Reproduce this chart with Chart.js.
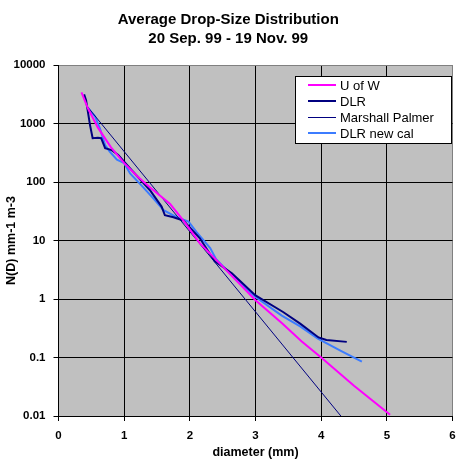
<!DOCTYPE html>
<html>
<head>
<meta charset="utf-8">
<title>Average Drop-Size Distribution</title>
<script src="https://cdn.jsdelivr.net/npm/chart.js@4/dist/chart.umd.min.js"></script>
<style>
  html, body { margin: 0; padding: 0; background: #fff; }
  canvas { display: block; }
</style>
</head>
<body>
<canvas id="dsd_chart" width="465" height="462"></canvas>
<script>
"use strict";

/*-- data --*/
var uwD  = [0.35, 0.45, 0.6, 0.8, 1.0, 1.2, 1.4, 1.7, 1.9, 2.15, 2.45, 3.0, 3.4, 3.7, 4.0, 4.5, 5.05];
var uwN  = [3400, 1800, 850, 390, 210, 125, 80, 42, 22, 9, 4.1, 0.95, 0.39, 0.19, 0.1, 0.033, 0.0105];

var dlrD = [0.39, 0.42, 0.48, 0.52, 0.6, 0.65, 0.71, 0.81, 0.91, 1.09, 1.39, 1.57, 1.62, 1.75, 1.9, 2.15, 2.38, 2.64, 3.0, 3.42, 3.68, 3.96, 4.08, 4.39];
var dlrN = [3150, 2500, 940, 560, 570, 560, 380, 350, 290, 171, 73, 38, 27, 25, 22, 11, 4.4, 2.75, 1.15, 0.6, 0.38, 0.22, 0.2, 0.185];

var mpD  = [0.44, 4.3];
var mpN  = [1940, 0.01];

var newD = [0.45, 0.56, 0.63, 0.71, 0.78, 0.89, 1.0, 1.09, 1.27, 1.44, 1.6, 1.8, 1.98, 2.1, 2.31, 2.4, 2.66, 2.99, 3.4, 3.68, 3.95, 4.3, 4.62];
var newN = [1850, 1300, 830, 430, 330, 240, 210, 140, 86, 53, 33, 25, 21, 14, 7.4, 4.8, 2.4, 1.1, 0.52, 0.34, 0.21, 0.13, 0.085];

var xTicks = [0, 1, 2, 3, 4, 5, 6];
var yTicks = [0.01, 0.1, 1, 10, 100, 1000, 10000];
var yTickLabels = ["0.01", "0.1", "1", "10", "100", "1000", "10000"];

function pts(xs, ys) {
  return xs.map(function (x, i) { return { x: x, y: ys[i] }; });
}

Chart.defaults.font.family = "'Liberation Sans', Arial, sans-serif";
Chart.defaults.color = '#000';

/*-- gray plot area --*/
var plotBack = {
  id: 'plotBack',
  beforeDraw: function (chart) {
    var a = chart.chartArea, ctx = chart.ctx;
    ctx.save();
    ctx.fillStyle = '#c0c0c0';
    ctx.fillRect(a.left, a.top, a.right - a.left, a.bottom - a.top);
    ctx.restore();
  }
};

/*-- legend box inside the plot --*/
var boxLegend = {
  id: 'boxLegend',
  afterDraw: function (chart) {
    var ctx = chart.ctx;
    var bx = 295.5, by = 76.5, bw = 156, bh = 67;
    ctx.save();
    ctx.fillStyle = '#fff';
    ctx.fillRect(bx, by, bw, bh);
    ctx.strokeStyle = '#000';
    ctx.lineWidth = 1;
    ctx.strokeRect(bx, by, bw, bh);
    ctx.font = "13px 'Liberation Sans', Arial, sans-serif";
    ctx.textBaseline = 'middle';
    ctx.fillStyle = '#000';
    chart.data.datasets.forEach(function (ds, i) {
      var y = 85 + i * 16;
      var ly = ds.borderWidth % 2 ? y + 0.5 : y;
      ctx.strokeStyle = ds.borderColor;
      ctx.lineWidth = ds.borderWidth;
      ctx.beginPath();
      ctx.moveTo(308, ly);
      ctx.lineTo(336, ly);
      ctx.stroke();
      ctx.fillText(ds.label, 340, y + 1);
    });
    ctx.restore();
  }
};

new Chart(document.getElementById('dsd_chart').getContext('2d'), {
  type: 'line',
  data: {
    datasets: [{
      label: 'U of W',
      data: pts(uwD, uwN),
      borderColor: '#ff00ff',
      borderWidth: 2
    }, {
      label: 'DLR',
      data: pts(dlrD, dlrN),
      borderColor: '#000080',
      borderWidth: 2
    }, {
      label: 'Marshall Palmer',
      data: pts(mpD, mpN),
      borderColor: '#000080',
      borderWidth: 1
    }, {
      label: 'DLR new cal',
      data: pts(newD, newN),
      borderColor: '#3c7cff',
      borderWidth: 2
    }]
  },
  options: {
    responsive: false,
    animation: false,
    devicePixelRatio: 1,
    parsing: false,
    elements: {
      point: { radius: 0, hoverRadius: 0 },
      line: { tension: 0, fill: false }
    },
    layout: { padding: { left: 4, right: 12.5, top: 0, bottom: 0 } },
    plugins: {
      legend: { display: false },
      tooltip: { enabled: false },
      title: {
        display: true,
        text: ['Average Drop-Size Distribution', '20 Sep. 99 - 19 Nov. 99'],
        color: '#000',
        font: { size: 15, weight: 'bold', lineHeight: '19px' },
        padding: { top: 10.5, bottom: 16.5 }
      }
    },
    scales: {
      x: {
        type: 'linear',
        min: 0,
        max: 6,
        afterBuildTicks: function (scale) {
          scale.ticks = xTicks.map(function (v) { return { value: v }; });
        },
        ticks: {
          color: '#000',
          padding: 8,
          maxRotation: 0,
          font: { size: 11.5, weight: 'bold' },
          callback: function (v) { return String(v); }
        },
        grid: {
          color: function (c) { return c.tick && c.tick.value === 6 ? '#808080' : '#000'; },
          tickColor: '#000',
          tickLength: 5,
          lineWidth: 1
        },
        border: { color: '#000' },
        title: {
          display: true,
          text: 'diameter (mm)',
          color: '#000',
          font: { size: 12.5, weight: 'bold' },
          padding: { top: 0, bottom: 2 }
        },
        afterFit: function (scale) { scale.height = 46; }
      },
      y: {
        type: 'logarithmic',
        min: 0.01,
        max: 10000,
        afterBuildTicks: function (scale) {
          scale.ticks = yTicks.map(function (v) { return { value: v }; });
        },
        ticks: {
          color: '#000',
          padding: 8,
          font: { size: 11.5, weight: 'bold' },
          callback: function (v) {
            var i = yTicks.indexOf(v);
            return i >= 0 ? yTickLabels[i] : '';
          }
        },
        grid: {
          color: function (c) { return c.tick && c.tick.value === 10000 ? '#808080' : '#000'; },
          tickColor: '#000',
          tickLength: 5,
          lineWidth: 1
        },
        border: { color: '#000' },
        title: {
          display: true,
          text: 'N(D) mm-1 m-3',
          color: '#000',
          font: { size: 12.5, weight: 'bold' },
          padding: { top: 0, bottom: 0 }
        },
        afterFit: function (scale) { scale.width = 54.5; }
      }
    }
  },
  plugins: [plotBack, boxLegend]
});
</script>
</body>
</html>
